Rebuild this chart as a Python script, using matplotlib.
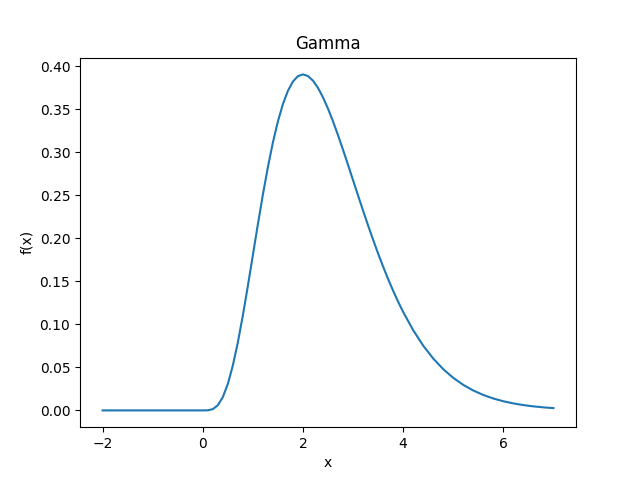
import matplotlib
matplotlib.use("Agg")
import matplotlib.pyplot as plt

# values
x_vals = [-2.0, -1.0, 0.0, 0.1, 0.2, 0.3, 0.4, 0.5, 0.6, 0.7, 0.8, 0.9,
          1.0, 1.1, 1.2, 1.3, 1.4, 1.5, 1.6, 1.7, 1.8, 1.9,
          2.0, 2.1, 2.2, 2.3, 2.4, 2.5, 2.6, 2.7, 2.8, 2.9,
          3.0, 3.1, 3.2, 3.3, 3.4, 3.5, 3.6, 3.7, 3.8, 3.9,
          4.0, 4.2, 4.4, 4.6, 4.8, 5.0, 5.2, 5.4, 5.6, 5.8,
          6.0, 6.2, 6.4, 6.6, 6.8, 7.0]
fx_vals = [0.0, 0.0, 0.0, 0.00011, 0.00143, 0.00593, 0.01534, 0.03066, 0.05205, 0.07894, 0.11026, 0.14461,
           0.18045, 0.21630, 0.25082, 0.28285, 0.31148, 0.33606, 0.35618, 0.37165, 0.38245, 0.38872,
           0.39073, 0.38886, 0.38346, 0.37506, 0.36406, 0.35093, 0.33613, 0.32004, 0.30306, 0.28551,
           0.26771, 0.24989, 0.23231, 0.21511, 0.19845, 0.18245, 0.16720, 0.15274, 0.13913, 0.12638,
           0.11450, 0.09330, 0.07533, 0.06032, 0.04794, 0.03783, 0.02967, 0.02313, 0.01793, 0.01383,
           0.01062, 0.00811, 0.00618, 0.00468, 0.00354, 0.00266]

fig, ax = plt.subplots(figsize=(6.4, 4.8), dpi=100)
ax.plot(x_vals, fx_vals)
ax.set_title("Gamma")
ax.set_xlabel("x")
ax.set_ylabel("f(x)")
fig.savefig("out.png")
